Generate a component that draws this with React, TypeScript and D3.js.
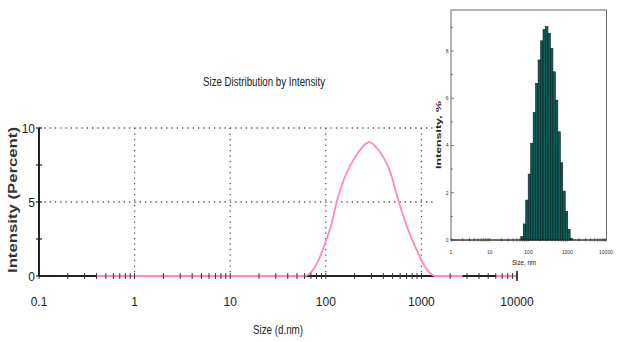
import React from 'react';
import * as d3 from 'd3';

// Main chart: Size Distribution by Intensity (curve)
const curveSizes = [0.4, 60, 71, 77, 87, 98, 115, 130, 159, 210, 268, 285, 354, 470, 573, 729, 929, 1092, 1283, 1380, 2700];
const curveValues = [0, 0, 0.29, 0.61, 1.3, 2.2, 3.55, 5.02, 6.72, 8.19, 8.98, 9.05, 8.53, 7.06, 5.14, 3.1, 1.52, 0.61, 0.1, 0, 0];
const extraZeroSizes = [6000, 10000];
const xTickLabels = ['0.1', '1', '10', '100', '1000', '10000'];
const xTickValues = [0.1, 1, 10, 100, 1000, 10000];
const yTickValues = [0, 5, 10];
const yMinorValues = [2.5, 7.5];

// Inset histogram
const binSizes = [68.06, 78.82, 91.28, 105.7, 122.4, 141.8, 164.2, 190.1, 220.2, 255.0, 295.3, 342.0, 396.1, 458.7, 531.2, 615.1, 712.4, 825.0, 955.4, 1106, 1281];
const binValues = [0.14, 0.68, 1.69, 2.79, 4.09, 5.39, 6.63, 7.62, 8.43, 8.91, 9.03, 8.74, 8.11, 7.12, 5.92, 4.58, 3.27, 2.07, 1.2, 0.45, 0.07];
const insetXTicks = [1, 10, 100, 1000, 10000];
const insetXLabels = ['1', '10', '100', '1000', '10000'];
const insetYTicks = [0, 2, 4, 6, 8];

const NARROW = "'Liberation Sans Narrow', 'Arial Narrow', 'Liberation Sans', Arial, sans-serif";

export default function App() {
  const x = d3.scaleLog().domain([0.1, 10000]).range([39, 517]);
  const y = d3.scaleLinear().domain([0, 10]).range([276, 128]);

  const minorX: number[] = [];
  for (let e = -1; e <= 3; e++) for (let m = 1; m <= 9; m++) minorX.push(m * Math.pow(10, e));
  minorX.push(10000);

  const curveData = curveSizes.map((s, i) => [s, curveValues[i]] as [number, number]);
  const line = d3.line<[number, number]>().x(d => x(d[0])).y(d => y(d[1])).curve(d3.curveMonotoneX);

  const pink = '#ff88c4';

  // inset scales
  const ix = d3.scaleLog().domain([1, 10000]).range([451, 606]);
  const iy = d3.scaleLinear().domain([0, 8]).range([240, 51]);
  const logStep = Math.log10(binSizes[1] / binSizes[0]);
  const insetMinor: number[] = [];
  for (let e = 0; e <= 3; e++) for (let m = 1; m <= 9; m++) insetMinor.push(m * Math.pow(10, e));
  insetMinor.push(10000);

  return (
    <svg width={621} height={342} style={{ position: 'absolute', left: 0, top: 0, background: '#fff' }}>
      <rect x={0} y={0} width={621} height={342} fill="#fff" />
      {/* title */}
      <text x={264} y={86} fontSize={12} fontFamily={NARROW} textAnchor="middle" fill="#222"
        textLength={122} lengthAdjust="spacingAndGlyphs">Size Distribution by Intensity</text>

      {/* gridlines */}
      {[1, 10, 100, 1000].map(v => (
        <line key={'vg' + v} x1={x(v)} x2={x(v)} y1={y(10)} y2={y(0)} stroke="#555" strokeWidth={1.3} strokeDasharray="1.3 4.2" />
      ))}
      {[5, 10].map(v => (
        <line key={'hg' + v} x1={x(0.1)} x2={x(10000)} y1={y(v)} y2={y(v)} stroke="#555" strokeWidth={1.3} strokeDasharray="1.3 4" />
      ))}

      {/* axes */}
      <line x1={x(0.1)} x2={x(0.1)} y1={y(10)} y2={y(0)} stroke="#222" strokeWidth={2} />
      <line x1={x(0.1)} x2={x(10000)} y1={y(0)} y2={y(0)} stroke="#222" strokeWidth={2.2} />

      {/* curve */}
      <path d={line(curveData) || ''} fill="none" stroke={pink} strokeWidth={1.8} />
      <line x1={x(extraZeroSizes[0])} x2={x(extraZeroSizes[1])} y1={y(0)} y2={y(0)} stroke={pink} strokeWidth={2.2} />

      {/* ticks */}
      {minorX.map((v, i) => (
        <line key={'xt' + i} x1={x(v)} x2={x(v)} y1={y(0) - 3} y2={y(0) + 3} stroke="#333" strokeWidth={1} />
      ))}
      <line x1={x(10000)} x2={x(10000)} y1={y(0) - 5} y2={y(0) + 5} stroke="#222" strokeWidth={1.5} />
      {[...yTickValues, ...yMinorValues].map(v => (
        <line key={'yt' + v} x1={x(0.1) - 3} x2={x(0.1) + 3} y1={y(v)} y2={y(v)} stroke="#222" strokeWidth={1.2} />
      ))}

      {/* tick labels */}
      {xTickValues.map((v, i) => (
        <text key={'xl' + i} x={x(v)} y={306} fontSize={12} fontFamily={NARROW} textAnchor="middle" fill="#222">{xTickLabels[i]}</text>
      ))}
      {yTickValues.map(v => (
        <text key={'yl' + v} x={35} y={y(v) + 4.5} fontSize={12} fontFamily={NARROW} textAnchor="end" fill="#222">{v}</text>
      ))}

      {/* axis titles */}
      <text x={278} y={334} fontSize={13} fontFamily={NARROW} textAnchor="middle" fill="#222"
        textLength={50} lengthAdjust="spacingAndGlyphs">Size (d.nm)</text>
      <text transform="translate(17,200) rotate(-90)" fontSize={13} fontWeight="bold" fontFamily="'Liberation Sans', Arial, sans-serif"
        textAnchor="middle" fill="#333" textLength={146} lengthAdjust="spacingAndGlyphs">Intensity (Percent)</text>

      {/* inset */}
      <g>
        <rect x={433} y={0} width={188} height={268} fill="#fff" />
        <rect x={451} y={10} width={155.5} height={230} fill="none" stroke="#444" strokeWidth={0.8} />
        {binSizes.map((s, i) => {
          const l = Math.log10(s);
          const x0 = ix(Math.pow(10, l - logStep / 2));
          const x1 = ix(Math.pow(10, l + logStep / 2));
          return (
            <rect key={'b' + i} x={x0} y={iy(binValues[i])} width={x1 - x0} height={240 - iy(binValues[i])}
              fill="#0d5c56" stroke="#0a1f1e" strokeWidth={0.6} />
          );
        })}
        <line x1={451} x2={606.5} y1={240} y2={240} stroke="#222" strokeWidth={1} />
        {insetMinor.map((v, i) => (
          <line key={'it' + i} x1={ix(v)} x2={ix(v)} y1={238} y2={241.5} stroke="#333" strokeWidth={0.6} />
        ))}
        {[0, 1, 2, 3, 4, 5, 6, 7, 8, 9].map(v => (
          <line key={'iyt' + v} x1={451} x2={v % 2 === 0 ? 454 : 453} y1={iy(v)} y2={iy(v)} stroke="#333" strokeWidth={0.6} />
        ))}
        {insetYTicks.map(v => (
          <text key={'iyl' + v} x={448.5} y={iy(v) + 1.8} fontSize={5} fontFamily={NARROW} textAnchor="end" fill="#333">{v}</text>
        ))}
        {insetXTicks.map((v, i) => (
          <text key={'ixl' + i} x={ix(v)} y={254} fontSize={5} fontFamily={NARROW} textAnchor="middle" fill="#333">{insetXLabels[i]}</text>
        ))}
        <text x={524} y={265} fontSize={7} fontFamily={NARROW} textAnchor="middle" fill="#222"
          textLength={24} lengthAdjust="spacingAndGlyphs">Size, nm</text>
        <text transform="translate(440.5,135) rotate(-90)" fontSize={7} fontWeight="bold" fontFamily="'Liberation Sans', Arial, sans-serif"
          textAnchor="middle" fill="#222" textLength={68} lengthAdjust="spacingAndGlyphs">Intensity, %</text>
      </g>
    </svg>
  );
}
